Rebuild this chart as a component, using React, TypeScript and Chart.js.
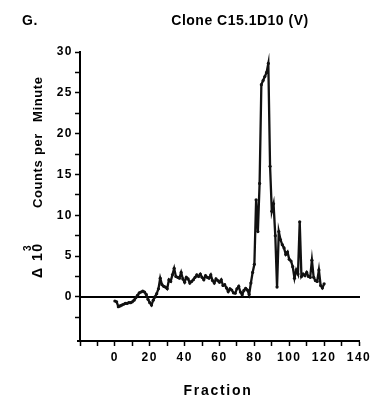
import React, { useEffect, useRef } from 'react';
import { Chart, registerables } from 'chart.js';

Chart.register(...registerables);

// Fraction numbers (x) and Δ 10^3 counts per minute (y)
const fractions = [
  0, 1, 2, 3, 4, 5, 6, 7, 8, 9, 10, 11, 12, 13, 14, 15, 16, 17, 18, 19,
  20, 21, 22, 23, 24, 25, 26, 27, 28, 29, 30, 31, 32, 33, 34, 35, 36, 37, 38, 39,
  40, 41, 42, 43, 44, 45, 46, 47, 48, 49, 50, 51, 52, 53, 54, 55, 56, 57, 58, 59,
  60, 61, 62, 63, 64, 65, 66, 67, 68, 69, 70, 71, 72, 73, 74, 75, 76, 77, 78, 79,
  80, 81, 82, 83, 84, 85, 86, 87, 88, 89, 90, 91, 92, 93, 94, 95, 96, 97, 98, 99,
  100, 101, 102, 103, 104, 105, 106, 107, 108, 109, 110, 111, 112, 113, 114, 115, 116, 117, 118, 119,
  120,
];

const cpm = [
  -0.5, -0.6, -1.2, -1.1, -1.0, -0.9, -0.8, -0.8, -0.7, -0.7,
  -0.6, -0.4, -0.1, 0.2, 0.5, 0.6, 0.7, 0.6, 0.3, -0.3,
  -0.7, -1.0, -0.4, 0.0, 0.4, 1.0, 2.3, 1.5, 1.3, 1.2,
  1.0, 2.1, 1.9, 2.7, 3.5, 2.5, 2.4, 2.3, 3.0, 2.2,
  1.8, 2.4, 2.2, 1.7, 1.9, 2.1, 2.4, 2.7, 2.5, 2.8,
  2.4, 2.1, 2.6, 2.4, 2.3, 2.7, 2.0, 1.7, 2.2, 2.0,
  1.8, 2.1, 1.4, 1.5, 1.1, 0.65, 1.0, 0.85, 0.5, 0.45,
  1.0, 1.3, 0.6, 0.25, 0.8, 1.05, 0.85, 0.3, 1.7, 3.0,
  4.0, 11.9, 8.0, 13.9, 26.0, 26.5, 27.0, 27.5, 28.6, 16.0,
  10.5, 11.4, 7.5, 1.2, 8.0, 7.0, 6.4, 6.0, 5.2, 5.5,
  4.6, 4.4, 3.7, 2.3, 3.3, 2.8, 9.2, 2.5, 2.8, 2.6,
  3.0, 2.5, 2.4, 4.5, 2.4, 2.0, 1.9, 3.3, 1.4, 1.1,
  1.6,
];

const xTicks = [-20, -10, 0, 10, 20, 30, 40, 50, 60, 70, 80, 90, 100, 110, 120, 130, 140];
const xTickLabels = [0, 20, 40, 60, 80, 100, 120, 140];
const yTicks = [-2.5, 0, 2.5, 5, 7.5, 10, 12.5, 15, 17.5, 20, 22.5, 25, 27.5, 30];
const yTickLabels = [0, 5, 10, 15, 20, 25, 30];

const FONT = '"Liberation Sans", Arial, Helvetica, sans-serif';

export default function App() {
  const ref = useRef<HTMLCanvasElement>(null);

  useEffect(() => {
    const canvas = ref.current;
    if (!canvas) return;

    const overlay = {
      id: 'overlay',
      beforeDraw(chart: any) {
        (chart.ctx as any).letterSpacing = '1.5px';
      },
      beforeDatasetsDraw(chart: any) {
        const ctx = chart.ctx as any;
        ctx.letterSpacing = '0px';
        const xs = chart.scales.x;
        const ys = chart.scales.y;
        const y0 = ys.getPixelForValue(0);
        ctx.save();
        ctx.strokeStyle = '#000';
        ctx.lineWidth = 2;
        ctx.beginPath();
        ctx.moveTo(xs.getPixelForValue(-20), y0);
        ctx.lineTo(xs.getPixelForValue(140) + 1, y0);
        ctx.stroke();
        // small extension of x axis to the left of the y axis
        const yb = ys.getPixelForValue(ys.min);
        ctx.beginPath();
        ctx.moveTo(xs.getPixelForValue(-20) - 3, yb);
        ctx.lineTo(xs.getPixelForValue(-20), yb);
        ctx.stroke();
        ctx.restore();
      },
      afterDraw(chart: any) {
        const ctx = chart.ctx as any;
        ctx.save();
        ctx.fillStyle = '#000';
        ctx.textBaseline = 'alphabetic';

        ctx.font = `bold 14px ${FONT}`;
        ctx.letterSpacing = '0.5px';
        ctx.textAlign = 'left';
        ctx.fillText('G.', 22, 25);
        ctx.textAlign = 'center';
        ctx.fillText('Clone C15.1D10 (V)', 240, 25);

        ctx.font = `bold 14px ${FONT}`;
        ctx.letterSpacing = '1.7px';
        ctx.fillText('Fraction', 218, 395);

        // rotated y-axis title
        ctx.save();
        ctx.translate(42, 0);
        ctx.rotate(-Math.PI / 2);
        ctx.textAlign = 'left';
        ctx.font = `bold 14px ${FONT}`;
        ctx.letterSpacing = '1.5px';
        ctx.fillText('Δ 10', -278, 0);
        ctx.font = `bold 10px ${FONT}`;
        ctx.letterSpacing = '0px';
        ctx.fillText('3', -251, -11);
        ctx.font = `bold 13px ${FONT}`;
        ctx.letterSpacing = '0.6px';
        ctx.fillText('Counts', -208, 0);
        ctx.fillText('per', -155, 0);
        ctx.fillText('Minute', -122, 0);
        ctx.restore();

        ctx.restore();
      },
    };

    const chart = new Chart(canvas, {
      type: 'line',
      data: {
        datasets: [
          {
            data: fractions.map((f, i) => ({ x: f, y: cpm[i] })),
            borderColor: '#111',
            backgroundColor: '#111',
            borderWidth: 2.3,
            pointRadius: 1.6,
            pointBackgroundColor: '#111',
            pointBorderWidth: 0,
            tension: 0,
            clip: false,
          },
        ],
      },
      options: {
        responsive: false,
        animation: false,
        devicePixelRatio: 1,
        layout: { padding: { top: 52, right: 18, left: 0, bottom: 0 } },
        plugins: { legend: { display: false }, tooltip: { enabled: false }, title: { display: false } },
        scales: {
          x: {
            type: 'linear',
            min: -20,
            max: 140,
            afterFit: (s: any) => { s.height = 59; },
            afterBuildTicks: (s: any) => { s.ticks = xTicks.map((v) => ({ value: v })); },
            ticks: {
              autoSkip: false,
              maxRotation: 0,
              minRotation: 0,
              padding: 4,
              color: '#000',
              font: { family: FONT, size: 12, weight: 'bold' },
              callback: (v: any) => (xTickLabels.includes(Number(v)) ? String(v) : ''),
            },
            grid: { drawOnChartArea: false, drawTicks: true, tickLength: 5, tickColor: '#000', tickWidth: 1.5 },
            border: { display: true, color: '#000', width: 2 },
          },
          y: {
            type: 'linear',
            min: -5.4,
            max: 30,
            afterFit: (s: any) => { s.width = 80; },
            afterBuildTicks: (s: any) => { s.ticks = yTicks.map((v) => ({ value: v })); },
            ticks: {
              autoSkip: false,
              padding: 2,
              color: '#000',
              font: { family: FONT, size: 12, weight: 'bold' },
              callback: (v: any) => (yTickLabels.includes(Number(v)) ? String(v) : ''),
            },
            grid: { drawOnChartArea: false, drawTicks: true, tickLength: 5, tickColor: '#000', tickWidth: 1.5 },
            border: { display: true, color: '#000', width: 2 },
          },
        },
      },
      plugins: [overlay],
    });

    return () => chart.destroy();
  }, []);

  return (
    <div style={{ position: 'absolute', left: 0, top: 0, width: 377, height: 400, background: '#fff' }}>
      <canvas ref={ref} width={377} height={400} style={{ display: 'block', width: 377, height: 400 }} />
    </div>
  );
}
